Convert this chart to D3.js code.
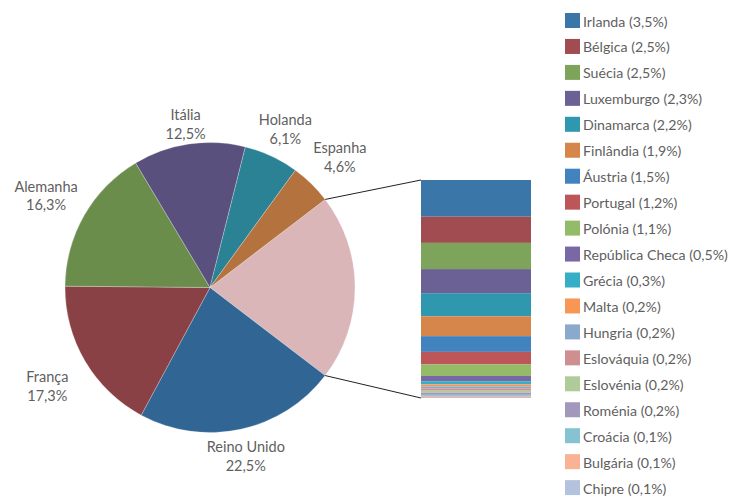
<!DOCTYPE html>
<html>
<head>
<meta charset="utf-8">
<script src="https://cdn.jsdelivr.net/npm/d3@7"></script>
<style>
  html, body { margin: 0; padding: 0; background: #fff; }
  svg text { font-family: "Lato", "Open Sans", sans-serif; font-weight: 400; fill: #5f5f5f; }
</style>
</head>
<body>
<svg id="chart" width="731" height="496"></svg>
<script>
// Main pie slices (share of total, %)
const pieNames = ["Outros", "Reino Unido", "França", "Alemanha", "Itália", "Holanda", "Espanha"];
const pieValues = [20.8, 22.5, 17.3, 16.3, 12.5, 6.1, 4.6];
const pieLabels = ["", "22,5%", "17,3%", "16,3%", "12,5%", "6,1%", "4,6%"];
const pieColors = ["#DBB6B8", "#306594", "#8A4145", "#6A8D4C", "#5A507D", "#2B8295", "#B4733E"];

// Breakdown of the "others" slice
const barNames = ["Irlanda", "Bélgica", "Suécia", "Luxemburgo", "Dinamarca", "Finlândia", "Áustria",
  "Portugal", "Polónia", "República Checa", "Grécia", "Malta", "Hungria", "Eslováquia",
  "Eslovénia", "Roménia", "Croácia", "Bulgária", "Chipre"];
const barValues = [3.5, 2.5, 2.5, 2.3, 2.2, 1.9, 1.5, 1.2, 1.1, 0.5, 0.3, 0.2, 0.2, 0.2, 0.2, 0.2, 0.1, 0.1, 0.1];
const barLabels = ["3,5%", "2,5%", "2,5%", "2,3%", "2,2%", "1,9%", "1,5%", "1,2%", "1,1%", "0,5%",
  "0,3%", "0,2%", "0,2%", "0,2%", "0,2%", "0,2%", "0,1%", "0,1%", "0,1%"];
const barColors = ["#3A76A8", "#A04C50", "#7EA45C", "#6B6195", "#2F98AF", "#D7864B", "#4282BE",
  "#BC5658", "#93BB68", "#7A68A6", "#36AEC6", "#F79655", "#8BA8CD", "#CF8F90", "#AFCC98",
  "#A298BC", "#85C3D3", "#F9B394", "#B4C2DD"];

const svg = d3.select("#chart");
const cx = 210, cy = 287.5, r = 145;
const fontSize = 14.5;

// Rotate so the "others" slice is centred on the right-hand side
const total = d3.sum(pieValues);
const otherSpan = pieValues[0] / total * 2 * Math.PI;
const start = Math.PI / 2 - otherSpan / 2;

const pie = d3.pie().sort(null).value(d => d.v)
  .startAngle(start).endAngle(start + 2 * Math.PI);
const arcs = pie(pieValues.map((v, i) => ({ v, i })));
const arc = d3.arc().innerRadius(0).outerRadius(r);

const g = svg.append("g").attr("transform", `translate(${cx},${cy})`);
g.selectAll("path").data(arcs).join("path")
  .attr("d", arc)
  .attr("fill", d => pieColors[d.data.i])
  .attr("stroke", "#ffffff")
  .attr("stroke-width", 0.5)
  .attr("stroke-opacity", 0.5);

// Slice labels: two-line block placed outside the rim along the mid-angle,
// pushed further out on the sides than at the top and bottom
arcs.forEach(d => {
  if (d.data.i === 0) return;
  const mid = (d.startAngle + d.endAngle) / 2;
  const ux = Math.sin(mid), uy = -Math.cos(mid);
  const dist = r + 41 * Math.abs(ux) + 17 * Math.abs(uy);
  const lx = ux * dist, ly = uy * dist;
  const t = g.append("text").attr("text-anchor", "middle").attr("font-size", fontSize);
  t.append("tspan").attr("x", lx).attr("y", ly - 1.5).text(pieNames[d.data.i]);
  t.append("tspan").attr("x", lx).attr("y", ly + 17).text(pieLabels[d.data.i]);
});

// Stacked breakdown bar
const barX = 421, barW = 110, barTop = 180, barBottom = 398;
const y = d3.scaleLinear().domain([0, d3.sum(barValues)]).range([barTop, barBottom]);
const cum = d3.cumsum(barValues);
svg.append("g").selectAll("rect").data(barValues).join("rect")
  .attr("x", barX)
  .attr("width", barW)
  .attr("y", (v, i) => y(cum[i] - v))
  .attr("height", (v, i) => y(cum[i]) - y(cum[i] - v))
  .attr("fill", (v, i) => barColors[i]);

// Connector lines from the "others" slice edges to the bar
const a0 = arcs[0].startAngle, a1 = arcs[0].endAngle;
const edge = a => [cx + r * Math.sin(a), cy - r * Math.cos(a)];
const [p0x, p0y] = edge(a0), [p1x, p1y] = edge(a1);
svg.append("line").attr("x1", p0x).attr("y1", p0y).attr("x2", barX).attr("y2", barTop)
  .attr("stroke", "#222").attr("stroke-width", 1);
svg.append("line").attr("x1", p1x).attr("y1", p1y).attr("x2", barX).attr("y2", barBottom)
  .attr("stroke", "#222").attr("stroke-width", 1);

// Legend
const lg = svg.append("g").attr("transform", "translate(565,13)");
const rows = lg.selectAll("g").data(barNames).join("g")
  .attr("transform", (d, i) => `translate(0,${i * 25.95})`);
rows.append("rect").attr("width", 15).attr("height", 15).attr("fill", (d, i) => barColors[i]);
rows.append("text").attr("x", 18).attr("y", 13.5).attr("font-size", 14.2)
  .text((d, i) => `${d} (${barLabels[i]})`);
</script>
</body>
</html>
